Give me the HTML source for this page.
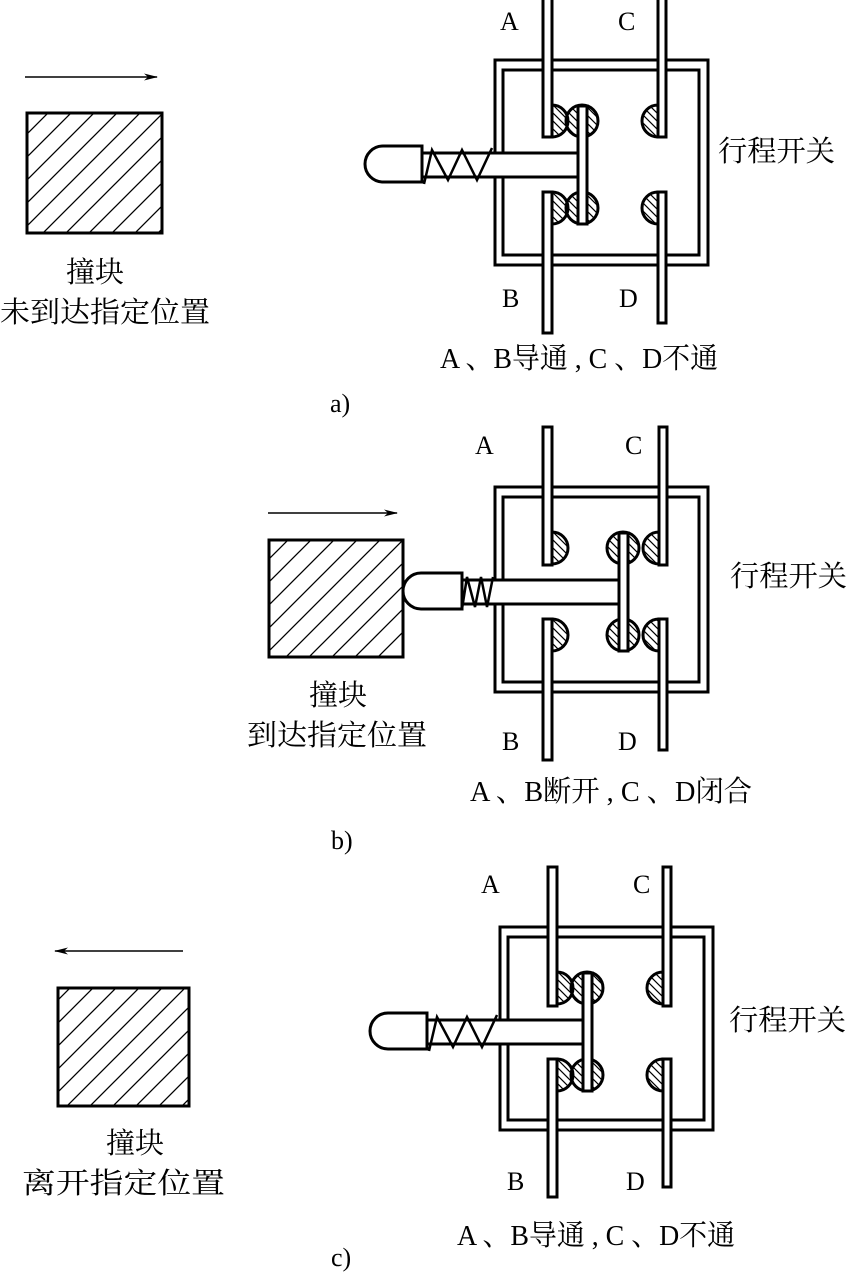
<!DOCTYPE html>
<html><head><meta charset="utf-8"><style>
html,body{margin:0;padding:0;background:#fff}
svg{display:block}
text{font-family:"Liberation Serif","Noto Serif CJK SC",serif;fill:#000}
</style></head><body>
<svg width="848" height="1272" viewBox="0 0 848 1272" xmlns="http://www.w3.org/2000/svg">
<defs>
<pattern id="hb" patternUnits="userSpaceOnUse" width="23" height="23">
<path d="M-2,25 L25,-2 M-25,25 L25,-25 M0,46 L46,0" stroke="#000" stroke-width="1.3"/>
</pattern>
<pattern id="hc" patternUnits="userSpaceOnUse" width="8" height="8">
<path d="M0,0 L8,8 M-8,0 L8,16 M0,-8 L16,8" stroke="#000" stroke-width="1.2"/>
</pattern>
<marker id="ar" markerWidth="14" markerHeight="8" refX="13" refY="4" orient="auto" markerUnits="userSpaceOnUse">
<path d="M0,0.5 L14,4 L0,7.5 L4,4 Z" fill="#000"/>
</marker>
</defs>

<g stroke="#000" stroke-width="3" fill="#fff">
<g>
<rect x="495" y="60" width="213" height="205"/>
<rect x="503" y="70" width="196" height="185"/>
<rect x="422" y="153" width="158" height="24"/>
<polyline points="424,184 432,150 448,180 462,150 477,180 492,148" fill="none" stroke-width="2.5"/>
<path d="M422,146 L383,146 A18,18 0 0 0 383,182 L422,182 Z"/>
<rect x="543" y="-5" width="9" height="142"/>
<rect x="543" y="192" width="9" height="141"/>
<rect x="658" y="-5" width="8" height="142"/>
<rect x="658" y="192" width="8" height="131"/>
<path d="M552,105 A16,16 0 0 1 552,137 Z" fill="url(#hc)"/>
<path d="M552,192 A16,16 0 0 1 552,224 Z" fill="url(#hc)"/>
<path d="M658,105 A16,16 0 0 0 658,137 Z" fill="url(#hc)"/>
<path d="M658,192 A16,16 0 0 0 658,224 Z" fill="url(#hc)"/>
<circle cx="582" cy="121" r="16" fill="url(#hc)"/>
<circle cx="582" cy="208" r="16" fill="url(#hc)"/>
<rect x="578" y="106" width="9" height="118"/>
</g>
<rect x="27" y="113" width="135" height="120" fill="url(#hb)"/>

<g transform="translate(0,427)">
<rect x="495" y="60" width="213" height="205"/>
<rect x="503" y="70" width="196" height="185"/>
<rect x="462" y="153" width="158" height="24"/>
<polyline points="462,182 467,150 475,180 481,150 487,180 493,150" fill="none" stroke-width="2.5"/>
<path d="M462,146 L421,146 A18,18 0 0 0 421,182 L462,182 Z"/>
<rect x="543" y="0" width="9" height="138"/>
<rect x="543" y="192" width="9" height="141"/>
<rect x="659" y="0" width="8" height="138"/>
<rect x="659" y="192" width="8" height="131"/>
<path d="M552,105 A16,16 0 0 1 552,137 Z" fill="url(#hc)"/>
<path d="M552,192 A16,16 0 0 1 552,224 Z" fill="url(#hc)"/>
<path d="M659,105 A16,16 0 0 0 659,137 Z" fill="url(#hc)"/>
<path d="M659,192 A16,16 0 0 0 659,224 Z" fill="url(#hc)"/>
<circle cx="623" cy="121" r="16" fill="url(#hc)"/>
<circle cx="623" cy="208" r="16" fill="url(#hc)"/>
<rect x="619" y="106" width="9" height="118"/>
</g>
<rect x="269" y="540" width="134" height="117" fill="url(#hb)"/>

<g transform="translate(5,867)">
<rect x="495" y="60" width="213" height="203"/>
<rect x="503" y="70" width="196" height="183"/>
<rect x="422" y="153" width="158" height="24"/>
<polyline points="424,184 432,150 448,180 462,150 477,180 492,148" fill="none" stroke-width="2.5"/>
<path d="M422,146 L383,146 A18,18 0 0 0 383,182 L422,182 Z"/>
<rect x="543" y="0" width="9" height="139"/>
<rect x="543" y="192" width="9" height="138"/>
<rect x="658" y="0" width="8" height="139"/>
<rect x="658" y="192" width="8" height="128"/>
<path d="M552,105 A16,16 0 0 1 552,137 Z" fill="url(#hc)"/>
<path d="M552,192 A16,16 0 0 1 552,224 Z" fill="url(#hc)"/>
<path d="M658,105 A16,16 0 0 0 658,137 Z" fill="url(#hc)"/>
<path d="M658,192 A16,16 0 0 0 658,224 Z" fill="url(#hc)"/>
<circle cx="582" cy="121" r="16" fill="url(#hc)"/>
<circle cx="582" cy="208" r="16" fill="url(#hc)"/>
<rect x="578" y="106" width="9" height="118"/>
</g>
<rect x="58" y="988" width="131" height="118" fill="url(#hb)"/>
</g>

<g stroke="#000" stroke-width="1.5" fill="none">
<line x1="25" y1="77" x2="157" y2="77" marker-end="url(#ar)"/>
<line x1="268" y1="513" x2="397" y2="513" marker-end="url(#ar)"/>
<line x1="183" y1="951" x2="55" y2="951" marker-end="url(#ar)"/>
</g>

<g font-size="26">
<text x="500" y="30">A</text><text x="618" y="30">C</text>
<text x="502" y="307">B</text><text x="619" y="307">D</text>
<text x="475" y="454">A</text><text x="625" y="454">C</text>
<text x="502" y="750">B</text><text x="618" y="750">D</text>
<text x="481" y="893">A</text><text x="633" y="893">C</text>
<text x="507" y="1190">B</text><text x="626" y="1190">D</text>
<text x="330" y="412">a)</text>
<text x="331" y="849">b)</text>
<text x="331" y="1266">c)</text>
</g>
<g font-size="29">
<text x="718" y="161" textLength="117" lengthAdjust="spacingAndGlyphs">行程开关</text>
<text x="730" y="586" textLength="117" lengthAdjust="spacingAndGlyphs">行程开关</text>
<text x="729" y="1030" textLength="117" lengthAdjust="spacingAndGlyphs">行程开关</text>
<text x="440" y="368" textLength="278" lengthAdjust="spacingAndGlyphs">A 、B导通 , C 、D不通</text>
<text x="470" y="801" textLength="282" lengthAdjust="spacingAndGlyphs">A 、B断开 , C 、D闭合</text>
<text x="457" y="1245" textLength="278" lengthAdjust="spacingAndGlyphs">A 、B导通 , C 、D不通</text>
<text x="66" y="282" textLength="58" lengthAdjust="spacingAndGlyphs">撞块</text>
<text x="0" y="322" textLength="210" lengthAdjust="spacingAndGlyphs">未到达指定位置</text>
<text x="309" y="705" textLength="58" lengthAdjust="spacingAndGlyphs">撞块</text>
<text x="247" y="745" textLength="180" lengthAdjust="spacingAndGlyphs">到达指定位置</text>
<text x="106" y="1153" textLength="58" lengthAdjust="spacingAndGlyphs">撞块</text>
<text x="22" y="1193" textLength="203" lengthAdjust="spacingAndGlyphs">离开指定位置</text>
</g>
</svg>
</body></html>
